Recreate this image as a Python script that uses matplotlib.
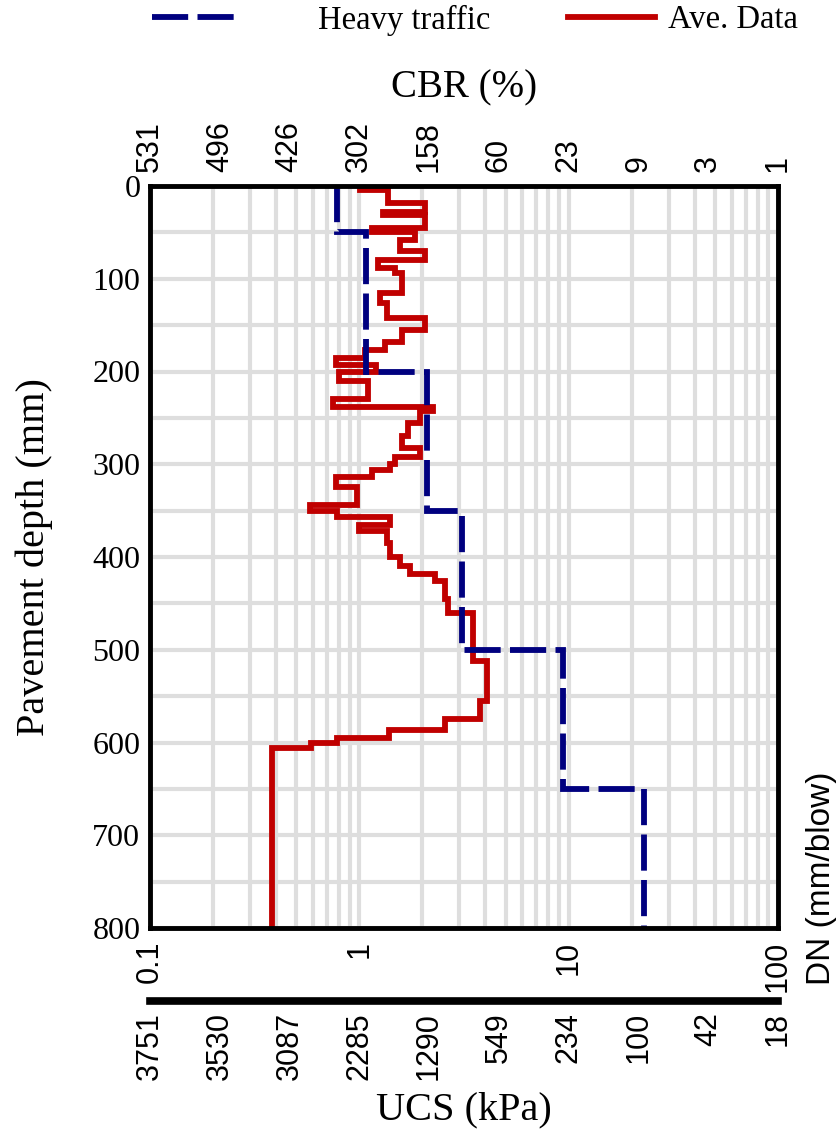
import matplotlib.pyplot as plt
import matplotlib.lines as mlines
from matplotlib.ticker import NullFormatter
import numpy as np

# tick labels
depth_ticks = [0, 100, 200, 300, 400, 500, 600, 700, 800]
dn_ticks = [0.1, 1, 10, 100]
dn_labels = ['0.1', '1', '10', '100']
cbr_labels = ['531', '496', '426', '302', '158', '60', '23', '9', '3', '1']
ucs_labels = ['3751', '3530', '3087', '2285', '1290', '549', '234', '100', '42', '18']

# heavy traffic design line (DN, mm/blow) per depth layer
heavy_edges = [0, 50, 200, 350, 500, 650, 800]
heavy_dn = [0.78, 1.08, 2.1, 3.1, 9.4, 23.0]

# average DCP data (DN, mm/blow) per depth step
ave_edges = [0, 4, 18, 28, 31, 45, 50, 58, 70, 80, 88, 94, 115, 126, 142, 155,
             168, 177, 185, 193, 200, 210, 230, 238, 243, 255, 270, 282, 292,
             300, 306, 314, 324, 344, 350, 357, 365, 372, 385, 400, 410, 418,
             426, 445, 460, 512, 555, 575, 586, 595, 601, 606, 800]
ave_dn = [1.01, 1.37, 2.06, 1.30, 2.06, 1.15, 1.85, 1.565, 2.06, 1.23, 1.48,
          1.60, 1.255, 1.36, 2.06, 1.60, 1.33, 1.07, 0.77, 1.20, 0.80, 1.10,
          0.75, 2.25, 1.95, 1.70, 1.60, 1.95, 1.48, 1.40, 1.15, 0.77, 0.97,
          0.58, 0.78, 1.40, 1.00, 1.35, 1.40, 1.565, 1.75, 2.30, 2.57, 2.65,
          3.49, 4.08, 3.77, 2.57, 1.38, 0.78, 0.59, 0.383]

serif = 'Liberation Serif'
sans = 'Liberation Sans'
blue = '#00007f'
red = '#c00000'
lw = 4.2
dash = (0, (6.2, 1.6))

fig = plt.figure(figsize=(8.37, 11.41), dpi=100)
ax = fig.add_axes([150 / 837, 1 - 928 / 1141, 628 / 837, 742 / 1141])

ax.stairs(ave_dn, ave_edges, orientation='horizontal', baseline=None,
          color=red, lw=lw, zorder=3)
ax.stairs(heavy_dn, heavy_edges, orientation='horizontal', baseline=None,
          color=blue, lw=lw, linestyle=dash, zorder=4)

ax.set_xscale('log')
ax.set_xlim(0.1, 100)
ax.set_ylim(800, 0)

ax.set_yticks(depth_ticks)
ax.set_yticks(np.arange(50, 800, 100), minor=True)
ax.set_yticklabels([str(d) for d in depth_ticks], fontfamily=serif, fontsize=23)
ax.set_xticks(dn_ticks)
ax.set_xticklabels(dn_labels, rotation=90, fontfamily=sans, fontsize=22)
ax.xaxis.set_minor_formatter(NullFormatter())
ax.tick_params(which='both', length=0)
ax.tick_params(axis='x', pad=9)
ax.tick_params(axis='y', pad=7)
ax.grid(which='both', color='#dedede', lw=3.0, zorder=0)
ax.set_axisbelow(True)
for s in ax.spines.values():
    s.set_linewidth(3.5)
    s.set_color('black')
    s.set_zorder(5)

ax.set_ylabel('Pavement depth (mm)', fontfamily=serif, fontsize=29)
ax.yaxis.set_label_coords(-0.155, 0.5)

third_pos = 10 ** np.linspace(-1, 2, 10)

top = ax.secondary_xaxis('top')
top.set_xticks(third_pos)
top.set_xticklabels(cbr_labels, rotation=90, fontfamily=sans, fontsize=22)
top.xaxis.set_minor_formatter(NullFormatter())
top.tick_params(which='both', length=0, pad=10)
top.spines['top'].set_visible(False)
top.set_xlabel('CBR (%)', fontfamily=serif, fontsize=28, labelpad=17)

ucs = ax.secondary_xaxis(-73 / 742)
ucs.set_xticks(third_pos)
ucs.set_xticklabels(ucs_labels, rotation=90, fontfamily=sans, fontsize=22)
ucs.xaxis.set_minor_formatter(NullFormatter())
ucs.tick_params(which='both', length=0, pad=8)
ucs.spines['bottom'].set_linewidth(5.5)
ucs.set_xlabel('UCS (kPa)', fontfamily=serif, fontsize=29, labelpad=8)

fig.text(822 / 837, 1 - 985 / 1141, 'DN (mm/blow)', rotation=90,
         ha='center', va='bottom', fontfamily=sans, fontsize=24)

h_heavy = mlines.Line2D([], [], color=blue, lw=lw, linestyle=dash)
h_ave = mlines.Line2D([], [], color=red, lw=lw)
leg_font = {'family': serif, 'size': 23.5}
fig.legend([h_heavy], ['Heavy traffic'], loc='center left',
           bbox_to_anchor=(152 / 837, 1 - 20 / 1141), frameon=False,
           handlelength=2.76, handletextpad=2.33, borderpad=0,
           borderaxespad=0, prop=leg_font)
fig.legend([h_ave], ['Ave. Data'], loc='center left',
           bbox_to_anchor=(568 / 837, 1 - 20 / 1141), frameon=False,
           handlelength=2.67, handletextpad=0.4, borderpad=0,
           borderaxespad=0, prop=leg_font)

fig.savefig('out.png', dpi=100)
